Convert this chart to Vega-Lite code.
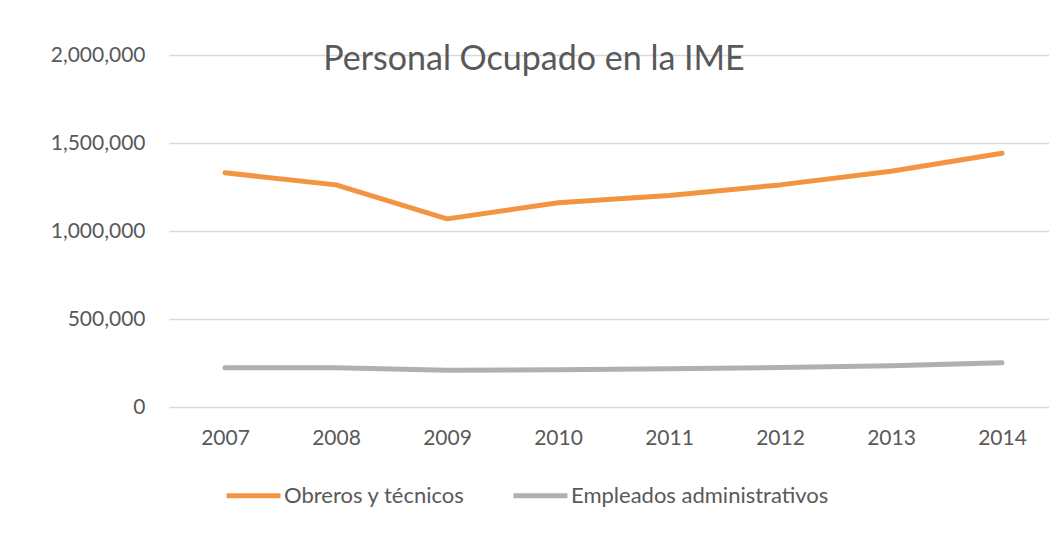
{
  "$schema": "https://vega.github.io/schema/vega-lite/v6.json",
  "autosize": "none",
  "width": 880,
  "height": 352,
  "padding": {"left": 169, "top": 55, "right": 0, "bottom": 131},
  "background": "white",
  "title": {
    "text": "Personal Ocupado en la IME",
    "font": "Lato",
    "fontSize": 34,
    "fontWeight": "normal",
    "color": "#595959",
    "anchor": "middle",
    "frame": "group",
    "baseline": "alphabetic",
    "dx": -75,
    "dy": 60,
    "offset": 0
  },
  "data": {
    "values": [
      {"year": "2007", "series": "Obreros y técnicos", "value": 1331000},
      {"year": "2008", "series": "Obreros y técnicos", "value": 1262000},
      {"year": "2009", "series": "Obreros y técnicos", "value": 1069000},
      {"year": "2010", "series": "Obreros y técnicos", "value": 1160000},
      {"year": "2011", "series": "Obreros y técnicos", "value": 1202000},
      {"year": "2012", "series": "Obreros y técnicos", "value": 1262000},
      {"year": "2013", "series": "Obreros y técnicos", "value": 1340000},
      {"year": "2014", "series": "Obreros y técnicos", "value": 1442000},
      {"year": "2007", "series": "Empleados administrativos", "value": 223000},
      {"year": "2008", "series": "Empleados administrativos", "value": 223000},
      {"year": "2009", "series": "Empleados administrativos", "value": 209000},
      {"year": "2010", "series": "Empleados administrativos", "value": 211000},
      {"year": "2011", "series": "Empleados administrativos", "value": 217000},
      {"year": "2012", "series": "Empleados administrativos", "value": 224000},
      {"year": "2013", "series": "Empleados administrativos", "value": 234000},
      {"year": "2014", "series": "Empleados administrativos", "value": 251000}
    ]
  },
  "mark": {"type": "line", "strokeWidth": 5, "strokeCap": "round", "strokeJoin": "round"},
  "encoding": {
    "x": {
      "field": "year",
      "type": "ordinal",
      "scale": {"type": "point", "padding": 0.464, "align": 0.544},
      "axis": {
        "title": null,
        "labelAngle": 0,
        "labelFont": "Lato",
        "labelFontSize": 21,
        "labelColor": "#595959",
        "labelPadding": 20,
        "labelBaseline": "top",
        "ticks": false,
        "domain": false,
        "grid": false
      }
    },
    "y": {
      "field": "value",
      "type": "quantitative",
      "scale": {"domain": [0, 2000000], "nice": false},
      "axis": {
        "title": null,
        "values": [0, 500000, 1000000, 1500000, 2000000],
        "format": ",.0f",
        "labelFont": "Lato",
        "labelFontSize": 21,
        "labelColor": "#595959",
        "labelPadding": 24,
        "ticks": false,
        "domain": false,
        "grid": true,
        "gridColor": "#d9d9d9",
        "gridWidth": 1.5
      }
    },
    "color": {
      "field": "series",
      "type": "nominal",
      "sort": ["Obreros y técnicos", "Empleados administrativos"],
      "scale": {"domain": ["Obreros y técnicos", "Empleados administrativos"], "range": ["#f39441", "#b0b0b0"]},
      "legend": {
        "title": null,
        "orient": "none",
        "direction": "horizontal",
        "legendX": 55,
        "legendY": 411,
        "symbolType": "stroke",
        "symbolSize": 2916,
        "symbolStrokeWidth": 5,
        "labelFont": "Lato",
        "labelFontSize": 22,
        "labelLimit": 500,
        "labelColor": "#595959",
        "labelOffset": 1,
        "columnPadding": 38
      }
    }
  },
  "config": {"view": {"stroke": null}}
}
